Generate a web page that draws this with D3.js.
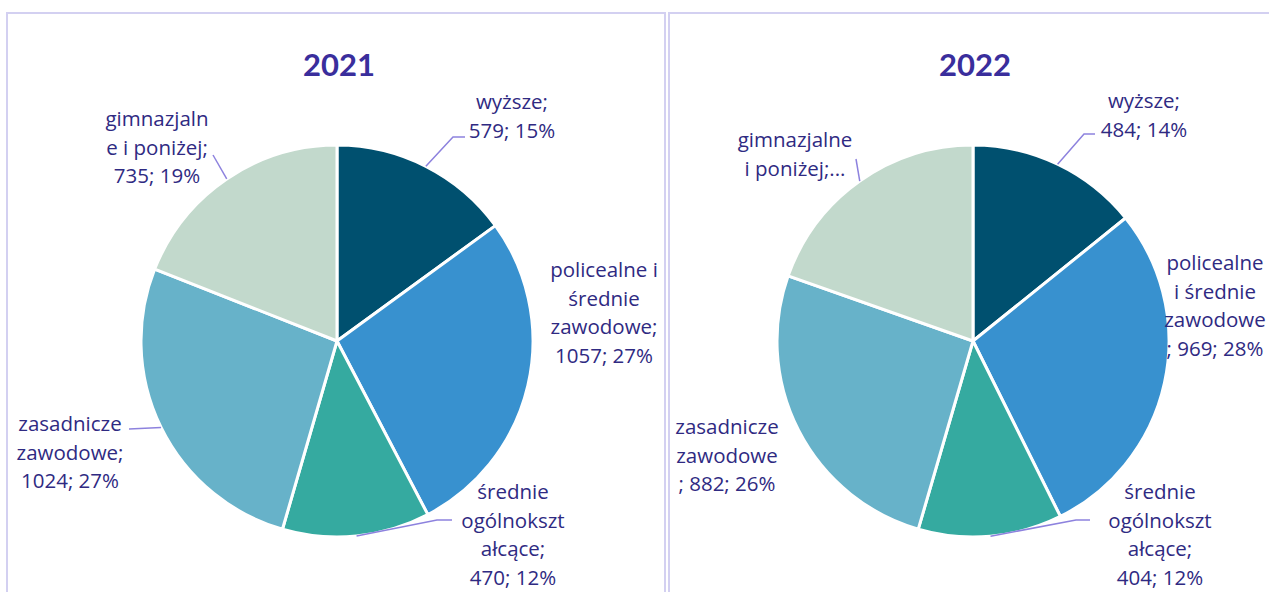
<!DOCTYPE html>
<html>
<head>
<meta charset="utf-8">
<script src="https://cdn.jsdelivr.net/npm/d3@7"></script>
<style>
  body { margin: 0; background: #fff; }
  svg text { font-family: "Open Sans", Lato, sans-serif; }
</style>
</head>
<body>
<svg id="viz"></svg>
<script>
// data
const categories = ["wyższe", "policealne i średnie zawodowe", "średnie ogólnokształcące", "zasadnicze zawodowe", "gimnazjalne i poniżej"];
const values2021 = [579, 1057, 470, 1024, 735];
const values2022 = [484, 969, 404, 882, 668];
const years = ["2021", "2022"];
const colors = ["#00506f", "#3891cf", "#35aaa0", "#67b2c9", "#c2d9cc"];

// label text as it is wrapped in the chart
const labels2021 = [
  ["wyższe;", "579; 15%"],
  ["policealne i", "średnie", "zawodowe;", "1057; 27%"],
  ["średnie", "ogólnokszt", "ałcące;", "470; 12%"],
  ["zasadnicze", "zawodowe;", "1024; 27%"],
  ["gimnazjaln", "e i poniżej;", "735; 19%"]
];
const labels2022 = [
  ["wyższe;", "484; 14%"],
  ["policealne", "i średnie", "zawodowe", "; 969; 28%"],
  ["średnie", "ogólnokszt", "ałcące;", "404; 12%"],
  ["zasadnicze", "zawodowe", "; 882; 26%"],
  ["gimnazjalne", "i poniżej;..."]
];

const width = 1269;
const height = 592;
const radius = 196;
const lineH = 28.5;
const textColor = "#2f2a82";
const titleColor = "#3a2e9c";
const leaderColor = "#8d82de";

const svg = d3.select("#viz").attr("width", width).attr("height", height);

// panel frames
svg.append("rect").attr("x", 7).attr("y", 13).attr("width", 658).attr("height", 620)
  .attr("fill", "none").attr("stroke", "#d3d0f1").attr("stroke-width", 2);
svg.append("rect").attr("x", 669).attr("y", 13).attr("width", 640).attr("height", 620)
  .attr("fill", "none").attr("stroke", "#d3d0f1").attr("stroke-width", 2);

// label placement: center x, first baseline, leader end / bend
const layout = [
  {
    cx: 337, cy: 341,
    labels: [
      { x: 512, y: 109, bend: [453, 137], end: [465, 137] },
      { x: 604, y: 277 },
      { x: 513, y: 499, bend: [437, 520], end: [452, 520] },
      { x: 70, y: 431, end: [129, 429] },
      { x: 157, y: 126, end: [213, 155] }
    ]
  },
  {
    cx: 973, cy: 341,
    labels: [
      { x: 1144, y: 108, bend: [1084, 134], end: [1095, 134] },
      { x: 1215, y: 270 },
      { x: 1160, y: 499, bend: [1076, 520], end: [1090, 520] },
      { x: 727, y: 434 },
      { x: 795, y: 147, end: [856, 159] }
    ]
  }
];

const pie = d3.pie().sort(null).value((d) => d);
const arc = d3.arc().innerRadius(0).outerRadius(radius);

function drawPie(values, labelLines, year, pos) {
  const g = svg.append("g").attr("transform", `translate(${pos.cx},${pos.cy})`);
  const arcs = pie(values);

  g.selectAll("path")
    .data(arcs)
    .enter()
    .append("path")
    .attr("d", arc)
    .attr("fill", (d, i) => colors[i])
    .attr("stroke", "#fff")
    .attr("stroke-width", 3)
    .attr("stroke-linejoin", "round");

  // title
  svg.append("text")
    .attr("x", pos.cx + 2)
    .attr("y", 76)
    .attr("text-anchor", "middle")
    .attr("font-size", 31)
    .attr("font-weight", "bold")
    .style("font-family", "Lato, sans-serif")
    .attr("fill", titleColor)
    .text(year);

  arcs.forEach((a, i) => {
    const lp = pos.labels[i];
    // leader line from the slice edge
    if (lp.end) {
      const mid = (a.startAngle + a.endAngle) / 2;
      const sx = pos.cx + radius * Math.sin(mid);
      const sy = pos.cy - radius * Math.cos(mid);
      const pts = [[sx, sy]];
      if (lp.bend) pts.push(lp.bend);
      pts.push(lp.end);
      svg.append("path")
        .attr("d", d3.line()(pts))
        .attr("fill", "none")
        .attr("stroke", leaderColor)
        .attr("stroke-width", 1.5);
    }
    const t = svg.append("text")
      .attr("text-anchor", "middle")
      .attr("font-size", 20.5)
      .attr("fill", textColor);
    labelLines[i].forEach((line, k) => {
      t.append("tspan").attr("x", lp.x).attr("y", lp.y + k * lineH).text(line);
    });
  });
}

drawPie(values2021, labels2021, years[0], layout[0]);
drawPie(values2022, labels2022, years[1], layout[1]);
</script>
</body>
</html>
